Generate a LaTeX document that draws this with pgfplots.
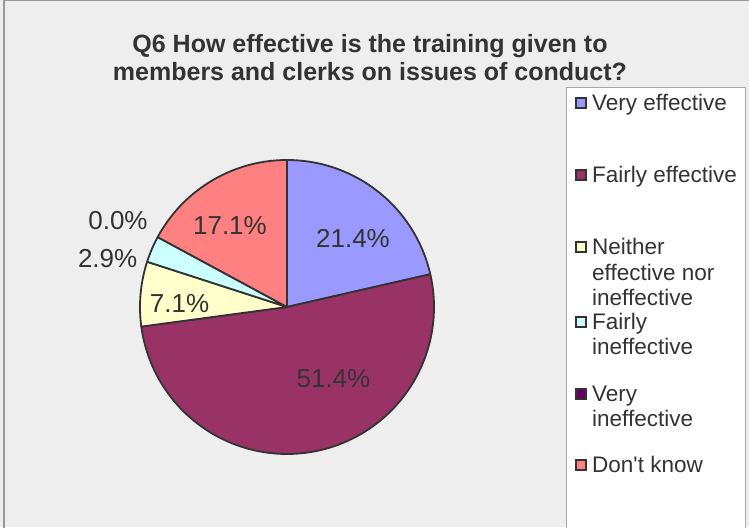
\documentclass[border=0pt]{standalone}
\usepackage{pgfplots}
\pgfplotsset{compat=1.18}
\usepackage{fontspec}
\setmainfont{Liberation Sans}
\newfontfamily\plainfont{Liberation Sans}
\definecolor{bg}{HTML}{EEEEEE}
\definecolor{edge}{HTML}{333333}
\definecolor{txt}{HTML}{333333}
\definecolor{cA}{HTML}{9999FF}
\definecolor{cB}{HTML}{993366}
\definecolor{cC}{HTML}{FFFFCC}
\definecolor{cD}{HTML}{CCFFFF}
\definecolor{cE}{HTML}{660066}
\definecolor{cF}{HTML}{FF8080}
% values (percent)
\def\vA{21.4}\def\vB{51.4}\def\vC{7.1}\def\vD{2.9}\def\vE{0.0}\def\vF{17.1}
\pgfmathsetmacro\tot{\vA+\vB+\vC+\vD+\vE+\vF}
\pgfmathsetmacro\k{360/\tot}
\pgfmathsetmacro\aA{90}
\pgfmathsetmacro\aB{\aA-\k*\vA}
\pgfmathsetmacro\aC{\aB-\k*\vB}
\pgfmathsetmacro\aD{\aC-\k*\vC}
\pgfmathsetmacro\aE{\aD-\k*\vD}
\pgfmathsetmacro\aF{\aE-\k*\vE}
\pgfmathsetmacro\aG{\aF-\k*\vF}
\newcommand\wedgeplot[3]{\addplot[draw=edge, line width=1.8pt, line join=round, fill=#3, domain=#1:#2, samples=90, smooth] ({cos(x)},{sin(x)}) -- (0,0) -- cycle;}
\begin{document}
\begin{tikzpicture}
\useasboundingbox (0pt,0pt) rectangle (749pt,527pt);
\fill[bg] (0pt,0pt) rectangle (749pt,527pt);
\draw[color=gray!80, line width=1.5pt] (4pt,-5pt) -- (4pt,526.5pt) -- (760pt,526.5pt);
\begin{axis}[hide axis, x=147pt, y=147pt, xmin=-1, xmax=1, ymin=-1, ymax=1,
  anchor=center, at={(287pt,220pt)}, clip=false]
\wedgeplot{\aB}{\aA}{cA}
\wedgeplot{\aC}{\aB}{cB}
\wedgeplot{\aD}{\aC}{cC}
\wedgeplot{\aE}{\aD}{cD}
\wedgeplot{\aG}{\aF}{cF}
\begin{scope}[every node/.style={text=txt, font=\fontsize{26}{30}\selectfont}]
\node at (axis cs:0.449,0.466) {21.4\%};
\node at (axis cs:0.316,-0.486) {51.4\%};
\node at (axis cs:-0.731,0.024) {7.1\%};
\node at (axis cs:-0.388,0.554) {17.1\%};
\node at (axis cs:-1.22,0.327) {2.9\%};
\node at (axis cs:-1.15,0.585) {0.0\%};
\end{scope}
\end{axis}
% title
\begin{scope}[every node/.style={text=txt, font=\bfseries\fontsize{25}{28}\selectfont, anchor=base, inner sep=0pt}]
\node at (370pt,474pt) {Q6 How effective is the training given to};
\node at (370pt,446pt) {members and clerks on issues of conduct?};
\end{scope}
% legend
\fill[white] (566pt,-5pt) rectangle (745pt,439pt);
\draw[gray!70, line width=1pt] (566pt,-5pt) rectangle (745pt,439pt);
\begin{scope}[every node/.style={text=txt, font=\fontsize{22.5}{25}\selectfont, anchor=base west, inner sep=0pt}]
\node at (592pt,416pt) {Very effective};
\node at (592pt,344pt) {Fairly effective};
\node at (592pt,272pt) {Neither};
\node at (592pt,246pt) {effective nor};
\node at (592pt,221pt) {ineffective};
\node at (592pt,197pt) {Fairly};
\node at (592pt,172pt) {ineffective};
\node at (592pt,125pt) {Very};
\node at (592pt,100pt) {ineffective};
\node at (592pt,54pt) {\plainfont Don't know};
\end{scope}
\foreach \yy/\cc in {424/cA, 352/cB, 280/cC, 205/cD, 133/cE, 62/cF}{
  \filldraw[fill=\cc, draw=edge, line width=1.8pt] (576pt,\yy pt-5pt) rectangle (586pt,\yy pt+5pt);
}
\end{tikzpicture}
\end{document}
